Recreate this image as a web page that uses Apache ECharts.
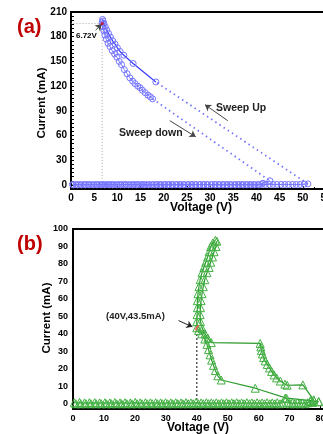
<!DOCTYPE html>
<html>
<head>
<meta charset="utf-8">
<script src="https://cdn.jsdelivr.net/npm/echarts/dist/echarts.min.js"></script>
<style>
  html, body { margin: 0; padding: 0; background: #fff; }
  #main { width: 323px; height: 434px; }
</style>
</head>
<body>
<div id="main"></div>
<script>
// ---- panel (a) data : [voltage V, current mA]
const aTicksX = [0, 5, 10, 15, 20, 25, 30, 35, 40, 45, 50, 55];
const aTicksY = [0, 30, 60, 90, 120, 150, 180, 210];
const aUpZero = [[0.3,0.5],[1.1,0.5],[1.9,0.5],[2.8,0.5],[3.6,0.5],[4.4,0.5],[5.3,0.5],[6.1,0.5],[6.9,0.5],[7.8,0.5],
  [8.6,0.5],[9.4,0.5],[10.3,0.5],[11.1,0.5],[11.9,0.5],[12.8,0.5],[13.6,0.5],[14.4,0.5],[15.3,0.5],[16.1,0.5],
  [16.9,0.5],[17.8,0.5],[18.6,0.5],[19.4,0.5],[20.3,0.5],[21.1,0.5],[21.9,0.5],[22.8,0.5],[23.6,0.5],[24.4,0.5],
  [25.3,0.5],[26.1,0.5],[26.9,0.5],[27.8,0.5],[28.6,0.5],[29.4,0.5],[30.3,0.5],[31.1,0.5],[31.9,0.5],[32.8,0.5],
  [33.6,0.5],[34.4,0.5],[35.3,0.5],[36.1,0.5],[36.9,0.5],[37.8,0.5],[38.6,0.5],[39.4,0.5],[40.3,0.5],[41.1,0.5],
  [41.9,0.5],[42.8,0.5],[43.6,0.5],[44.4,0.5],[45.3,0.5],[46.1,0.5],[46.9,0.5],[47.8,0.5],[48.6,0.5],[49.4,0.5],
  [50.3,0.8],[51.1,1.2]];
const aUpJump = [[51.1,1.2],[18.3,125]];
const aUpBranch = [[18.3,125],[13.4,147.5],[11.4,157.5],[10.6,162],[10.0,166.5],[9.5,171],[9.0,175],[8.5,179.5],
  [8.1,184],[7.7,188],[7.4,192],[7.1,196],[6.9,199],[6.8,201]];
const aDownBranch = [[6.72,197],[6.9,192],[7.1,187],[7.3,182],[7.6,177],[8.0,172],[8.4,168],[8.9,163],[9.4,159],
  [9.9,155],[10.4,150],[10.9,146],[11.5,140],[12.1,135],[12.7,130],[13.3,126],[13.8,123],[14.4,120],[14.9,118],
  [15.4,115],[16.0,112],[16.6,109],[17.1,107],[17.6,104.5]];
const aDownJump = [[17.6,104.5],[42.9,5]];
const aDownZero = [[42.9,5],[41.4,2],[40.5,0],[39.6,0],[38.8,0],[37.9,0],[37.1,0],[36.2,0],[35.4,0],[34.5,0],
  [33.7,0],[32.8,0],[32.0,0],[31.1,0],[30.3,0],[29.4,0],[28.6,0],[27.7,0],[26.9,0],[26.0,0],[25.2,0],[24.3,0],
  [23.5,0],[22.6,0],[21.8,0],[20.9,0],[20.1,0],[19.2,0],[18.4,0],[17.5,0],[16.7,0],[15.8,0],[15.0,0],[14.1,0],
  [13.3,0],[12.4,0],[11.6,0],[10.7,0],[9.9,0],[9.0,0],[8.2,0],[7.3,0],[6.5,0],[5.6,0],[4.8,0],[3.9,0],[3.1,0],
  [2.2,0],[1.4,0],[0.5,0]];
const aGuide = [[6.72,0],[6.72,196],[0,196]];
const aMark = [[6.72,196]];

// ---- panel (b) data : [voltage V, current mA]
const bTicksX = [0, 10, 20, 30, 40, 50, 60, 70, 80];
const bTicksY = [0, 10, 20, 30, 40, 50, 60, 70, 80, 90, 100];
const bUpZero = [[0.4,0.6],[2.1,0.8],[3.7,0.5],[5.3,0.6],[7.0,0.7],[8.6,0.5],[10.3,0.6],[11.9,0.5],[13.5,0.7],
  [15.2,0.5],[16.8,0.6],[18.5,0.5],[20.1,0.8],[21.7,0.5],[23.4,0.6],[25.0,0.5],[26.7,0.6],[28.3,0.5],[29.9,0.6],
  [31.6,0.5],[33.2,0.6],[34.9,0.5],[36.5,0.6],[38.1,0.5],[39.8,0.8],[41.4,0.5],[43.1,0.6],[44.7,0.5],[46.3,0.6],
  [48.0,0.5],[49.6,0.6],[51.3,0.5],[52.9,0.6],[54.5,0.5],[56.2,0.6],[57.8,0.5],[59.5,0.6],[61.1,0.5],[62.7,0.6],
  [64.4,0.5],[66.0,0.6],[67.7,0.5],[69.3,0.6],[70.9,0.5],[72.6,0.6],[74.2,0.5],[75.9,0.6],[77.5,0.8],[79.4,1.2]];
const bUpBranch = [[79.4,1.2],[76.8,1.8],[69,3.2],[58.9,8.9],[47.9,13.6],[46.8,16],[46,19],[45.4,22],[44.8,25],
  [44.3,28],[43.8,31],[43.3,34],[42.6,37],[41.6,40],[40.6,42],[40,43.5],[40.0,47],[40.1,51],[40.2,55],[40.2,59],
  [40.4,63],[40.7,67],[41.1,71],[41.7,75],[42.3,78],[42.9,81],[43.5,84],[44,87],[44.5,90],[45.2,92],[46,93.5]];
const bDownBranch = [[46.5,93],[46.2,90],[45.6,87],[45.1,84],[44.5,81],[44,78],[43.3,75],[42.6,71],[42.1,67],
  [41.7,63],[41.4,59],[41.2,55],[41.1,51],[41.2,47],[41.8,43],[42.7,40],[43.6,37.5],[44.7,35],[60.5,34.5],
  [60.7,32.5],[60.9,30.5],[61.2,28.5],[61.6,26.5],[62.1,24.5],[62.8,22.5],[63.5,20.5],[64.2,18.5],[65,16.5],
  [65.8,14.8],[67,13],[68.5,11.2],[69.2,10.6],[74.3,10.8],[77.8,2.2]];
const bDownZero = [[77.8,2.2],[76.7,1.3],[75.0,0],[73.4,0],[71.7,0],[70.1,0],[68.6,3.2],[66.9,0],[65.2,0],[63.6,0],
  [61.9,0],[60.3,0],[58.6,0],[57.0,0],[55.3,0],[53.7,0],[52.0,0],[50.4,0],[48.7,0],[47.1,0],[45.4,0],[43.8,0],
  [42.1,0],[40.5,0],[38.8,0],[37.2,0],[35.5,0],[33.9,0],[32.2,0],[30.6,0],[28.9,0],[27.3,0],[25.6,0],[24.0,0],
  [22.3,0],[20.7,0],[19.0,0],[17.4,0],[15.7,0],[14.1,0],[12.4,0],[10.8,0],[9.1,0],[7.5,0],[5.8,0],[4.2,0],
  [2.5,0],[0.9,0]];
const bGuide = [[40,0],[40,42]];
const bMark = [[40,43.5]];

const BLUE = '#7373ff', BLUE_LINE = '#3a3aff';
const GREEN = '#43b043', GREEN_LINE = '#2c9a2c';
const FONT = 'Liberation Sans, Arial, sans-serif';

const chart = echarts.init(document.getElementById('main'));

function axisCommon(size, margin) {
  return {
    axisLine: { show: true, onZero: false, lineStyle: { color: '#000', width: 2 } },
    axisTick: { show: true, inside: true, length: 3, lineStyle: { color: '#000', width: 1 } },
    minorTick: { show: true, splitNumber: 2, length: 2, lineStyle: { color: '#000' } },
    splitLine: { show: false },
    axisLabel: { color: '#000', fontWeight: 'bold', fontSize: size, fontFamily: FONT, margin: margin }
  };
}

function marks(data, xi, symbol, size, color) {
  return {
    type: 'line', xAxisIndex: xi, yAxisIndex: xi, data: data,
    symbol: symbol, symbolSize: size, showSymbol: true,
    lineStyle: { color: color, width: 1 },
    itemStyle: { color: 'rgba(255,255,255,0)', borderColor: color, borderWidth: 1 },
    z: 3
  };
}

function arrow(from, to) {
  return [{ coord: from, symbol: 'none' }, { coord: to, symbol: 'arrow' }];
}

chart.setOption({
  animation: false,
  grid: [
    { left: 71, top: 12, width: 255, height: 177, show: true, borderColor: '#000', borderWidth: 2,
      containLabel: false, outerBoundsMode: 'none' },
    { left: 73, top: 229, width: 263, height: 180, show: true, borderColor: '#000', borderWidth: 2,
      containLabel: false, outerBoundsMode: 'none' }
  ],
  xAxis: [
    Object.assign(axisCommon(10, 4), { type: 'value', gridIndex: 0, min: 0, max: 55, interval: 5 }),
    Object.assign(axisCommon(9, 5), { type: 'value', gridIndex: 1, min: 0, max: 85, interval: 10 })
  ],
  yAxis: [
    Object.assign(axisCommon(10, 4), { type: 'value', gridIndex: 0, min: -5, max: 210,
      axisLabel: { color: '#000', fontWeight: 'bold', fontSize: 10, fontFamily: FONT, margin: 4,
        formatter: v => aTicksY.indexOf(v) >= 0 ? String(v) : '' },
      interval: 5, minorTick: { show: false },
      axisTick: { show: true, inside: true, length: 3, interval: (i, v) => aTicksY.indexOf(Number(v)) >= 0,
        lineStyle: { color: '#000' } } }),
    Object.assign(axisCommon(9, 5), { type: 'value', gridIndex: 1, min: -3, max: 100,
      axisLabel: { color: '#000', fontWeight: 'bold', fontSize: 9, fontFamily: FONT, margin: 5,
        formatter: v => bTicksY.indexOf(v) >= 0 ? String(v) : '' },
      interval: 1, minorTick: { show: false },
      axisTick: { show: false } })
  ],
  series: [
    // panel (a)
    { type: 'line', xAxisIndex: 0, yAxisIndex: 0, data: aGuide, symbol: 'none',
      lineStyle: { color: '#aaa', width: 1, type: [1, 2] }, z: 1 },
    marks(aUpZero, 0, 'circle', 6, BLUE),
    marks(aDownZero, 0, 'circle', 6, BLUE),
    { type: 'line', xAxisIndex: 0, yAxisIndex: 0, data: aUpJump, symbol: 'none',
      lineStyle: { color: BLUE, width: 1.8, type: [1.5, 3.5] } },
    { type: 'line', xAxisIndex: 0, yAxisIndex: 0, data: aDownJump, symbol: 'none',
      lineStyle: { color: BLUE, width: 1.8, type: [1.5, 3.5] },
      markLine: { silent: true, label: { show: false }, symbolSize: 6,
        lineStyle: { color: '#444', width: 1, type: 'solid' },
        data: [arrow([33.8, 78], [28.9, 97.4]), arrow([21.3, 78], [26.9, 58.5]), arrow([5.3, 188], [6.6, 195])] } },
    Object.assign(marks(aUpBranch, 0, 'circle', 6, BLUE), { lineStyle: { color: BLUE_LINE, width: 1.2 } }),
    Object.assign(marks(aDownBranch, 0, 'circle', 6, BLUE), { lineStyle: { color: BLUE, width: 1 } }),
    { type: 'scatter', xAxisIndex: 0, yAxisIndex: 0, data: aMark, symbol: 'circle', symbolSize: 3,
      itemStyle: { color: '#e00000' }, z: 5 },
    // panel (b)
    { type: 'line', xAxisIndex: 1, yAxisIndex: 1, data: bGuide, symbol: 'none',
      lineStyle: { color: '#222', width: 1.5, type: [1.5, 2.5] }, z: 1 },
    marks(bUpZero, 1, 'triangle', 8, GREEN),
    marks(bDownZero, 1, 'triangle', 8, GREEN),
    Object.assign(marks(bUpBranch, 1, 'triangle', 8, GREEN), { lineStyle: { color: GREEN_LINE, width: 1.2 } }),
    Object.assign(marks(bDownBranch, 1, 'triangle', 8, GREEN), { lineStyle: { color: GREEN_LINE, width: 1.2 },
      markLine: { silent: true, label: { show: false }, symbolSize: 6,
        lineStyle: { color: '#222', width: 1, type: 'solid' },
        data: [arrow([34.1, 47.6], [38.6, 44])] } }),
    { type: 'scatter', xAxisIndex: 1, yAxisIndex: 1, data: bMark, symbol: 'rect', symbolSize: [2, 6],
      symbolRotate: -30, itemStyle: { color: '#ff5050' }, z: 5 }
  ],
  graphic: [
    { type: 'text', left: 17, top: 17, style: { text: '(a)', fill: '#c00000', font: 'bold 20px ' + FONT } },
    { type: 'text', left: 17, top: 234, style: { text: '(b)', fill: '#c00000', font: 'bold 20px ' + FONT } },
    { type: 'text', x: 42, y: 103, rotation: Math.PI / 2,
      style: { text: 'Current (mA)', fill: '#000', font: 'bold 11.5px ' + FONT, align: 'center', verticalAlign: 'middle' } },
    { type: 'text', x: 47, y: 318, rotation: Math.PI / 2,
      style: { text: 'Current (mA)', fill: '#000', font: 'bold 11.5px ' + FONT, align: 'center', verticalAlign: 'middle' } },
    { type: 'text', x: 201, y: 208,
      style: { text: 'Voltage (V)', fill: '#000', font: 'bold 12px ' + FONT, align: 'center', verticalAlign: 'middle' } },
    { type: 'text', x: 198, y: 428,
      style: { text: 'Voltage (V)', fill: '#000', font: 'bold 12px ' + FONT, align: 'center', verticalAlign: 'middle' } },
    { type: 'text', x: 76, y: 36,
      style: { text: '6.72V', fill: '#000', font: 'bold 8px ' + FONT, verticalAlign: 'middle' } },
    { type: 'text', x: 216, y: 108,
      style: { text: 'Sweep Up', fill: '#222', font: 'bold 10.5px ' + FONT, verticalAlign: 'middle' } },
    { type: 'text', x: 119, y: 133,
      style: { text: 'Sweep down', fill: '#222', font: 'bold 10.5px ' + FONT, verticalAlign: 'middle' } },
    { type: 'text', x: 106, y: 316,
      style: { text: '(40V,43.5mA)', fill: '#222', font: 'bold 9.5px ' + FONT, verticalAlign: 'middle' } }
  ]
});
</script>
</body>
</html>
